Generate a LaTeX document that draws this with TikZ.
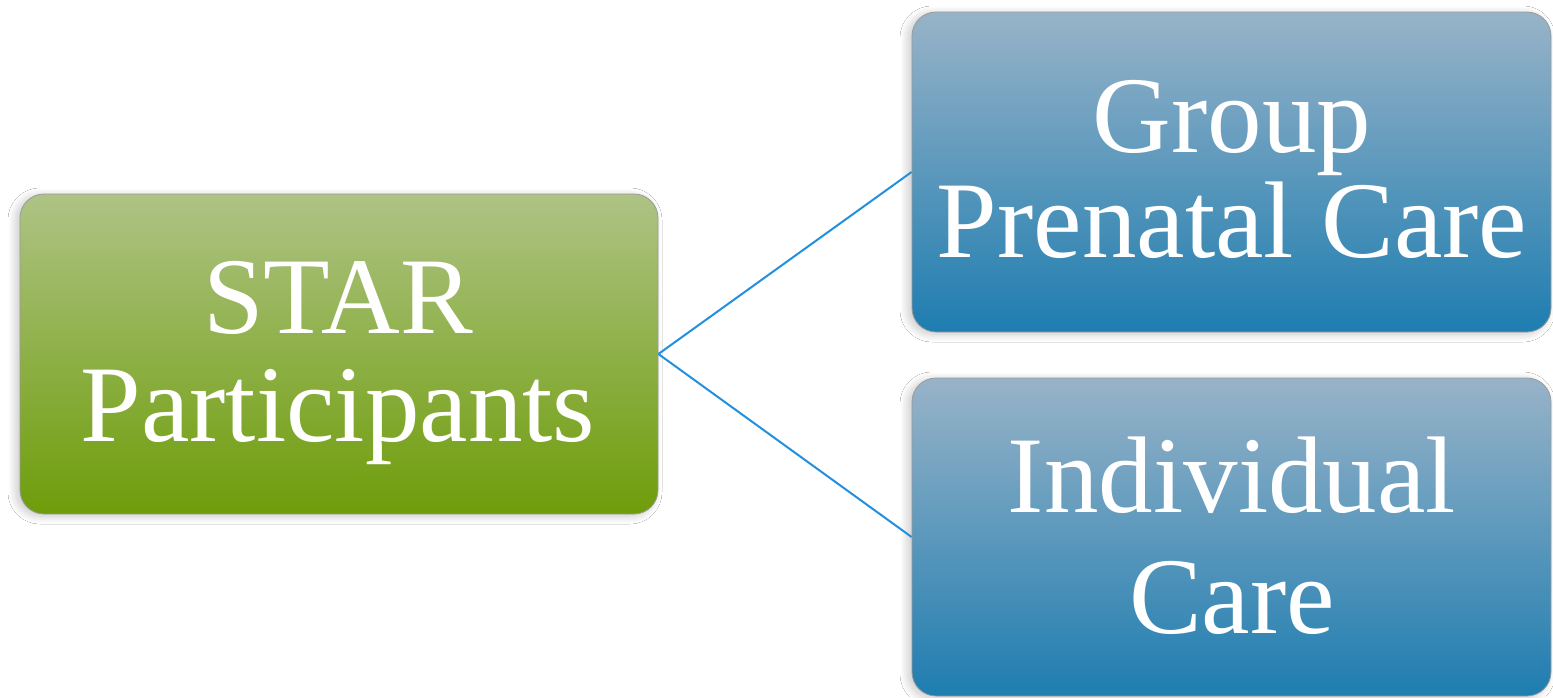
\documentclass[tikz,border=0pt]{standalone}
\usepackage{fontspec}
\setmainfont{Liberation Serif}
\usetikzlibrary{shadows.blur}
\definecolor{greentop}{HTML}{AEC385}
\definecolor{greenbot}{HTML}{6E9D0A}
\definecolor{bluetop}{HTML}{98B3C8}
\definecolor{bluebot}{HTML}{1E7DB0}
\definecolor{linkblue}{HTML}{2290DE}
\definecolor{rim}{HTML}{9A9A9A}
\tikzset{
  card/.style={rectangle, rounded corners=24pt, inner sep=0pt,
    draw=rim, line width=0.8pt,
    blur shadow={shadow xshift=-4pt, shadow yshift=-2pt,
      shadow blur radius=8pt, shadow blur steps=16,
      shadow opacity=22}},
  greencard/.style={card, top color=greentop, bottom color=greenbot},
  bluecard/.style={card, top color=bluetop, bottom color=bluebot},
  cardtext/.style={anchor=base, inner sep=0pt, text=white,
    font=\fontsize{109}{109}\selectfont},
  link/.style={draw=linkblue, line width=2pt}
}
\begin{document}
\begin{tikzpicture}[x=1pt, y=-1pt]
  \useasboundingbox[fill=white] (0,0) rectangle (1553,697);

  % boxes
  \node[greencard, minimum width=638pt, minimum height=320pt] (star) at (339,354) {};
  \node[bluecard, minimum width=639pt, minimum height=320pt] (group) at (1231.5,172) {};
  \node[bluecard, minimum width=639pt, minimum height=318pt] (indiv) at (1231.5,537) {};

  % labels, one node per line, set on their baselines
  \node[cardtext] (star1) at (338,333) {STAR};
  \node[cardtext] (star2) at (338,441) {Participants};
  \node[cardtext] (group1) at (1232,152) {Group};
  \node[cardtext] (group2) at (1232,257) {Prenatal Care};
  \node[cardtext] (indiv1) at (1232,512) {Individual};
  \node[cardtext] (indiv2) at (1232,633) {Care};

  % connectors
  \draw[link] (star.east) -- (group.west);
  \draw[link] (star.east) -- (indiv.west);
\end{tikzpicture}
\end{document}
